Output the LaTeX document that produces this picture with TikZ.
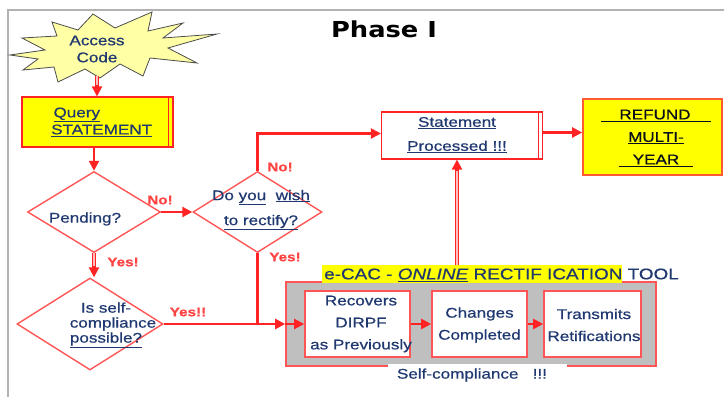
\documentclass[tikz,border=0pt]{standalone}
\usepackage{fontspec}
\setmainfont{Liberation Sans}[FakeStretch=1.22, FakeBold=0.6]
\newfontfamily\titlefont{DejaVu Sans}[FakeStretch=1.17]
\usetikzlibrary{arrows.meta,shapes.geometric,calc}

\definecolor{navy}{RGB}{31,56,112}
\definecolor{flowred}{RGB}{255,35,35}
\definecolor{edgered}{RGB}{255,85,85}
\definecolor{burst}{RGB}{255,255,165}
\definecolor{hilite}{RGB}{255,255,0}
\definecolor{toolgray}{RGB}{191,191,191}
\definecolor{refundedge}{RGB}{255,90,50}

\tikzset{
  txt/.style={text=navy, font=\fontsize{14}{17}\selectfont, inner sep=0pt, align=center},
  flow/.style={draw=flowred, line width=2.2pt, -{Triangle[length=10pt,width=10pt]}},
  link/.style={draw=flowred, line width=2.2pt},
  dbl/.style={draw=flowred, line width=1.3pt, double=flowred!30, double distance=2pt},
  decision/.style={diamond, draw=edgered, line width=1.4pt, inner sep=0pt},
  tag/.style={text=flowred!85!white, font=\bfseries\fontsize{12.5}{14}\selectfont, inner sep=0pt},
  stepbox/.style={draw=edgered, fill=white, line width=1.6pt, inner sep=0pt}
}

\begin{document}
\begin{tikzpicture}[x=1pt,y=-1pt]
\useasboundingbox (0,0) rectangle (724,397);

% page frame
\draw[gray!60, line width=2.5pt] (8,397) -- (8,10) -- (724,10);

% title
\node[font=\titlefont\bfseries\fontsize{22}{24}\selectfont, inner sep=0pt] (title) at (384,29) {Phase I};

% access code starburst
\draw[fill=burst, draw=black!70, line width=0.8pt]
  (10,55) -- (45,50) -- (22,38) -- (57,36) -- (52,22) -- (78,30) -- (93,14) -- (115,28)
  -- (152,12) -- (148,31) -- (183,23) -- (163,38) -- (217,34) -- (168,48) -- (197,63)
  -- (150,58) -- (143,76) -- (120,64) -- (100,78) -- (85,69) -- (58,82) -- (54,67)
  -- (23,70) -- (38,59) -- cycle;
\node[txt] (access) at (97,49) {Access\\Code};
\coordinate (accb) at (97,76);

% query statement
\node[draw=flowred, fill=hilite, line width=1.2pt, minimum width=151pt, minimum height=50pt] (query) at (97.5,122) {};
\draw[flowred, line width=1.2pt] ($(query.north east)+(-5,0)$) -- ($(query.south east)+(-5,0)$);
\node[txt, align=left, anchor=west] (querytxt) at (51,122) {\,\underline{Query}\\\underline{STATEMENT}};

% decisions
\node[decision, minimum width=133pt, minimum height=81pt] (pend) at (94,212) {};
\node[txt] (pendtxt) at (85,219) {Pending?};

\node[decision, minimum width=129pt, minimum height=81pt] (dow) at (257.5,212) {};
\node[txt, font=\fontsize{14}{25}\selectfont] (dowtxt) at (261,210) {Do \underline{you}\ \ \underline{wish}\\\underline{to rectify?}};

\node[decision, minimum width=146pt, minimum height=92pt] (self) at (90,324) {};
\node[txt, font=\fontsize{14}{15}\selectfont] (selftxt) at (106,325) {Is self-\\\hspace{14pt}compliance\\\underline{possible?}\hspace{8pt}};

% statement processed
\node[draw=flowred, fill=white, line width=1.2pt, minimum width=161pt, minimum height=47pt] (stmt) at (462,135.5) {};
\draw[flowred, line width=1.2pt] ($(stmt.north east)+(-5,0)$) -- ($(stmt.south east)+(-5,0)$);
\node[txt, font=\fontsize{14}{24}\selectfont] (stmttxt) at (457,135) {\underline{Statement}\\\underline{Processed !!!}};

% refund
\node[draw=refundedge, fill=hilite, line width=1.6pt, minimum width=139pt, minimum height=76pt] (refund) at (652.5,137) {};
\node[txt, text=black!75!navy, font=\fontsize{14}{22.5}\selectfont] (refundtxt) at (656,138)
  {\underline{\hspace{18pt}REFUND\hspace{20pt}}\\\underline{MULTI-}\\\underline{\hspace{14pt}YEAR\hspace{14pt}}};

% online rectification tool
\node[fill=toolgray, draw=edgered, line width=1.6pt, minimum width=370pt, minimum height=84pt] (ecac) at (471,324) {};
\node[fill=hilite, inner sep=0pt, minimum width=300pt, minimum height=18pt] (hlbar) at (472,273.5) {};
\node[txt, anchor=west, font=\fontsize{15.5}{17}\selectfont] (ecactxt) at (324,275)
  {e-CAC - \underline{\textit{ONLINE}} RECTIF ICATION TOOL};
\coordinate (up) at (457,265);

\node[stepbox, minimum width=105pt, minimum height=66pt] (recov) at (357.5,324) {};
\node[txt, font=\fontsize{14}{22}\selectfont] (recovtxt) at (361,324) {Recovers\\DIRPF\\as Previously};
\node[stepbox, minimum width=95pt, minimum height=66pt] (chg) at (479.5,324) {};
\node[txt, font=\fontsize{14}{22}\selectfont] (chgtxt) at (479.5,325) {Changes\\Completed};
\node[stepbox, minimum width=97pt, minimum height=66pt] (trans) at (592.5,324) {};
\node[txt, font=\fontsize{14}{22}\selectfont] (transtxt) at (594,325) {Transmits\\Retifications};

\node[txt, fill=white, minimum width=179pt, minimum height=22pt] (selfcomp) at (477,375) {Self-compliance\ \ \ !!!\hspace{10pt}};

% connectors
\draw[dbl, shorten >=9pt] (accb) -- (accb |- query.north);
\draw[flow] ($(accb |- query.north)+(0,-11)$) -- (accb |- query.north);

\draw[flow] (pend.north |- query.south) -- (pend.north);
\draw[flow] (pend.east) -- (dow.west);

\coordinate (stmtin) at ($(stmt.west)+(0,-2)$);
\draw[flow] (dow.north) |- (stmtin);
\draw[link] (dow.south) -- (dow.south |- self.east);

\draw[dbl, shorten >=9pt] (pend.south) -- (pend.south |- self.north);
\draw[flow] ($(pend.south |- self.north)+(0,-11)$) -- (pend.south |- self.north);

\draw[flow] (self.east) -- (self.east -| ecac.west);
\draw[flow] (self.east -| ecac.west) -- (recov.west);
\draw[flow] (recov.east) -- (chg.west);
\draw[flow] (chg.east) -- (trans.west);

\draw[dbl, shorten >=9pt] (up) -- (up |- stmt.south);
\draw[flow] ($(up |- stmt.south)+(0,11)$) -- (up |- stmt.south);

\coordinate (s2r) at ($(stmt.east)+(0,-3)$);
\draw[flow] (s2r) -- (s2r -| refund.west);

% branch labels
\node[tag] (no1) at (160,200) {No!};
\node[tag] (yes1) at (123,262) {Yes!};
\node[tag] (no2) at (280,167) {No!};
\node[tag] (yes2) at (285,257) {Yes!};
\node[tag] (yes3) at (188,312) {Yes!!};
\end{tikzpicture}
\end{document}
